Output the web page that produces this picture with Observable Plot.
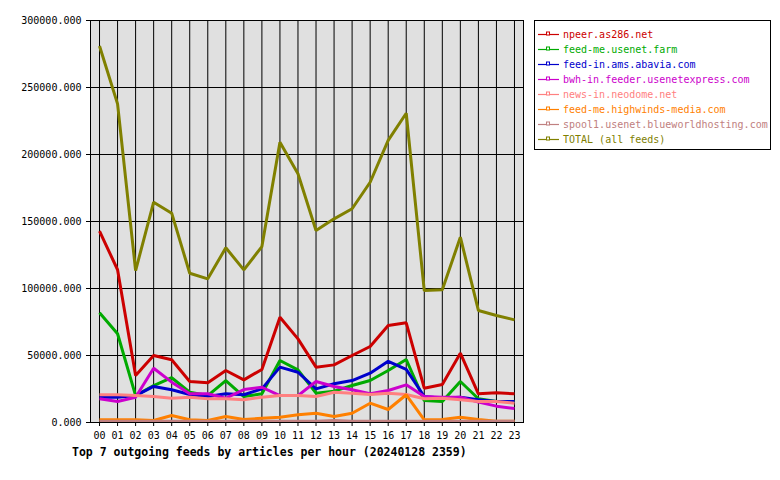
<!DOCTYPE html>
<html><head><meta charset="utf-8">
<script src="https://cdn.jsdelivr.net/npm/d3@7"></script>
<script src="https://cdn.jsdelivr.net/npm/@observablehq/plot@0.6"></script>
<style>
body{margin:0;background:#fff;font-family:"DejaVu Sans Mono",monospace;}
#wrap{position:relative;width:780px;height:480px;}
#chart{position:absolute;left:0;top:0;}
#legend{position:absolute;left:534px;top:20px;width:237px;height:130px;border:1px solid #000;box-sizing:border-box;background:#fff}
.row{position:absolute;left:3px;height:15px;display:flex;align-items:center;font-size:10px;white-space:nowrap;}
.row svg{margin-right:4px;}
#title{position:absolute;left:72px;top:445px;font-weight:bold;font-size:11.5px;white-space:nowrap;}
</style></head>
<body>
<div id="wrap">
  <div id="chart"></div>
  <div id="legend"></div>
  <div id="title"></div>
</div>
<script>
const titleText = "Top 7 outgoing feeds by articles per hour (20240128 2359)";
const hours = d3.range(24);
const hourLabels = ["00","01","02","03","04","05","06","07","08","09","10","11","12","13","14","15","16","17","18","19","20","21","22","23"];
const yTicks = [0, 50000, 100000, 150000, 200000, 250000, 300000];

const seriesNames = ["npeer.as286.net","feed-me.usenet.farm","feed-in.ams.abavia.com","bwh-in.feeder.usenetexpress.com","news-in.neodome.net","feed-me.highwinds-media.com","spool1.usenet.blueworldhosting.com","TOTAL (all feeds)"];
const seriesColors = ["#cc0000","#00aa00","#0000cc","#cc00cc","#ff8080","#ff8000","#c08080","#808000"];

const npeer    = [142800,114000,35100,50000,46800,30600,29600,38800,31800,39600,78600,62400,41300,43000,50000,56700,72400,74400,25600,28400,51700,21400,22200,21400];
const usenetFarm = [81900,66200,20100,27600,33400,22600,20100,31300,19400,21400,46300,39300,21900,23400,27600,31300,38800,47000,16400,15700,30600,17700,15700,15700];
const abavia   = [18900,18900,20100,26900,24400,20900,19400,21400,20700,25100,41300,37500,25100,28900,31300,36800,45700,39600,19400,18100,18900,16900,15700,15700];
const bwh      = [17700,15700,18900,40500,30100,21400,21400,18100,24600,26300,20100,20100,30600,26900,24400,21400,23900,28100,19400,18900,18900,15200,12200,10400];
const neodome  = [20700,20700,20100,19400,18100,18900,17700,17700,16900,18900,20100,20100,19400,22600,21900,20900,21900,20900,17700,18100,16900,15700,15700,14400];
const highwinds= [2000,2000,2000,1500,5200,2000,1500,4500,2200,3200,4000,5700,6900,4500,6900,14400,9700,20700,2000,2200,4000,2200,1000,1000];
const spool1   = [1000,1000,1000,1000,1000,1000,1000,1000,1000,1000,1000,1000,1000,1500,1000,1000,1000,1000,1000,1000,1000,1000,1000,1000];
const total    = [281000,237800,113400,164400,156200,111400,107200,130400,113900,131300,209200,185600,143300,152000,159500,179300,210500,230800,98500,99000,138300,83600,79900,76600];

const seriesValues = [npeer, usenetFarm, abavia, bwh, neodome, highwinds, spool1, total];

const lineMarks = seriesValues.map((vals, s) =>
  Plot.line(hours, {x: d => d, y: d => vals[d], stroke: seriesColors[s], strokeWidth: 3, strokeLinejoin: "miter", strokeLinecap: "butt"})
);

const chart = Plot.plot({
  width: 780,
  height: 445,
  marginLeft: 90,
  marginRight: 257,
  marginTop: 20,
  marginBottom: 23,
  x: {domain: [-0.5, 23.5]},
  y: {domain: [0, 300000]},
  style: {fontFamily: "DejaVu Sans Mono, monospace", fontSize: "10px", color: "#000", background: "transparent"},
  marks: [
    Plot.frame({fill: "#e0e0e0"}),
    Plot.gridX(hours, {stroke: "#000", strokeOpacity: 1}),
    Plot.gridY(yTicks, {stroke: "#000", strokeOpacity: 1}),
    ...lineMarks,
    Plot.frame({stroke: "#000"}),
    Plot.axisX(hours, {tickSize: 4, tickPadding: 5, tickFormat: d => hourLabels[d], label: null, stroke: "#000"}),
    Plot.axisY(yTicks, {tickSize: 4, tickPadding: 5, tickFormat: d3.format(".3f"), label: null, stroke: "#000"})
  ]
});
document.getElementById("chart").appendChild(chart);

const legend = document.getElementById("legend");
seriesNames.forEach((name, i) => {
  const row = document.createElement("div");
  row.className = "row";
  row.style.top = (6 + 15 * i) + "px";
  row.style.color = seriesColors[i];
  row.innerHTML = `<svg width="21" height="15"><line x1="0" x2="21" y1="7.5" y2="7.5" stroke="${seriesColors[i]}" stroke-width="1.2"/><rect x="8.5" y="5" width="3" height="3" fill="#fff" stroke="${seriesColors[i]}" stroke-width="1"/></svg><span>${name}</span>`;
  legend.appendChild(row);
});
document.getElementById("title").textContent = titleText;
</script>
</body></html>
